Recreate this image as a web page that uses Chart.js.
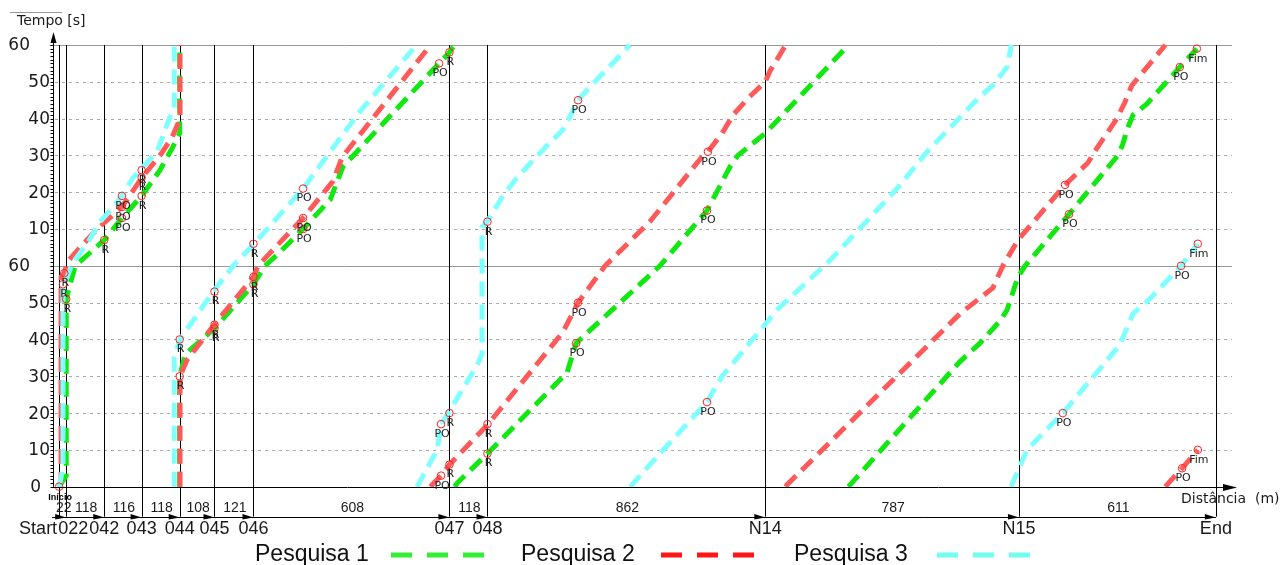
<!DOCTYPE html>
<html>
<head>
<meta charset="utf-8">
<script src="https://cdn.jsdelivr.net/npm/chart.js@4.4.1/dist/chart.umd.min.js"></script>
<style>
  html, body { margin: 0; padding: 0; background: #fff; }
  canvas { display: block; }
</style>
</head>
<body>
<canvas id="canvas" width="1282" height="565"></canvas>
<script>
// time axis wraps every 120 s (two bands of 60 s)
const PERIOD = 120;

const stationNames = ['Start', '022', '042', '043', '044', '045', '046', '047', '048', 'N14', 'N15', 'End'];
const segmentLengths = [22, 118, 116, 118, 108, 121, 608, 118, 862, 787, 611];

const yTickValues = [0, 10, 20, 30, 40, 50, 60, 70, 80, 90, 100, 110, 120];
const yTickLabels = ['0', '10', '20', '30', '40', '50', '60', '10', '20', '30', '40', '50', '60'];

// Pesquisa 1 : distance (m) / elapsed time (s)
const dist1 = [0, 22, 22, 28, 50, 140, 195, 256, 313, 351, 374, 374, 391, 482, 603, 639, 676, 757, 841, 881,
  1179, 1211, 1235, 1329, 1576, 1604, 1864, 2010, 2082, 2106, 2191, 2454, 2795, 2857, 2919, 2941, 2975, 2997,
  3133, 3285, 3300, 3313, 3332, 3375, 3477, 3530];
const time1 = [0, 3, 51, 53, 60, 67, 73, 79, 86, 92, 96, 150, 156, 163, 175, 180, 183, 190, 198, 207,
  235, 238, 241, 249, 271, 279, 300, 315, 327, 330, 336, 360.5, 394, 399, 405, 408, 417, 420,
  434, 450, 453, 457, 461, 464, 474, 479];

// Pesquisa 2
const dist2 = [0, 6, 6, 16, 25, 65, 118, 195, 257, 313, 351, 375, 375, 397, 437, 481, 603, 617, 757, 850, 878,
  1157, 1185, 1211, 1331, 1563, 1610, 1694, 1833, 1998, 2013, 2057, 2091, 2143, 2191, 2206, 2258, 2795, 2897,
  2928, 2975, 3121, 3192, 3220, 3282, 3307, 3328, 3437, 3484, 3533];
const time2 = [0, 2, 57, 58, 61, 65, 70, 76, 84, 90, 95, 100, 150, 154.5, 159, 164, 177, 180, 193, 203, 209.5,
  240.5, 243, 246, 257, 282, 290, 300, 312, 330, 331, 336, 341, 346, 350, 353, 360.5, 407, 414,
  420, 427, 442, 448, 452, 460, 464.5, 469, 480.5, 485, 490];

// Pesquisa 3
const dist3 = [0, 12, 12, 25, 43, 87, 127, 168, 195, 230, 251, 304, 344, 357, 357, 375, 478, 540, 605, 757, 841,
  934, 1114, 1173, 1185, 1207, 1297, 1312, 1312, 1328, 1377, 1421, 1501, 1563, 1585, 1610, 1647, 1777, 1833,
  2010, 2057, 2190, 2227, 2392, 2600, 2693, 2857, 2897, 2941, 2956, 3003, 3114, 3291, 3332, 3384, 3481, 3533];
const time3 = [0, 5, 55, 57, 61, 66, 72, 76, 79, 84, 86, 91, 100.5, 103, 155, 160, 173, 180, 186, 201, 211,
  222, 240.5, 250, 257, 260, 273, 276, 310.5, 312, 319, 324, 331.5, 337, 340.5, 345, 348.6, 360.5, 366,
  383, 390, 404, 408, 421.5, 441, 451, 466, 469, 474, 480.5, 490, 500, 518.5, 527, 531, 540, 546];

// event markers (R / PO / start and end of each run)
const markerDist = [0, 16, 12, 22, 140, 195, 195, 195, 256, 256, 256, 374, 374, 482, 482, 482, 603, 603, 603,
  757, 757, 757, 1179, 1211, 1185, 1211, 1185, 1211, 1329, 1329, 1329, 1610, 1604, 1610, 2013, 2010, 2010,
  3121, 3133, 3477, 3530, 3114, 3481, 3533, 3484, 3533];
const markerTime = [0, 58, 55, 51, 67, 79, 76, 73, 86, 84, 79, 160, 150, 173, 164, 163, 177, 175, 186,
  201, 193, 190, 235, 238, 257, 260, 243, 246, 257, 249, 312, 290, 279, 345, 331, 315, 383,
  442, 434, 474, 479, 500, 540, 546, 485, 490];
const markerLabels = ['Início', 'R', 'R', 'R', 'R', 'PO', 'PO', 'PO', 'R', 'R', 'R', 'R', 'R', 'R', 'R', 'R', 'R', 'R', 'R',
  'PO', 'PO', 'PO', 'PO', 'R', 'PO', 'R', 'PO', 'R', 'R', 'R', 'R', 'PO', 'PO', 'PO', 'PO', 'PO', 'PO',
  'PO', 'PO', 'PO', 'Fim', 'PO', 'PO', 'Fim', 'PO', 'Fim'];

const seriesNames = ['Pesquisa 1', 'Pesquisa 2', 'Pesquisa 3'];
const seriesDist = [dist1, dist2, dist3];
const seriesTime = [time1, time2, time3];
const lineColors = ['#10e810', '#ff5a5a', '#80ffff'];
const legendColors = ['#33ee33', '#ff1515', '#70ffee'];

const stationDist = [0];
segmentLengths.forEach(l => stationDist.push(stationDist[stationDist.length - 1] + l));

// split a trajectory where the time wraps around the 120 s window
function wrapTrack(dist, time) {
  const segs = [];
  let cur = [];
  for (let i = 0; i < dist.length; i++) {
    if (i > 0) {
      const a = time[i - 1], b = time[i];
      let m = Math.floor(a / PERIOD) + 1;
      while (m * PERIOD < b) {
        const f = (m * PERIOD - a) / (b - a);
        const x = dist[i - 1] + f * (dist[i] - dist[i - 1]);
        cur.push({x: x, y: PERIOD});
        segs.push(cur);
        cur = [{x: x, y: 0}];
        m++;
      }
    }
    const t = time[i];
    const v = t - Math.floor(t / PERIOD) * PERIOD;
    if (v === 0 && t > 0) {
      cur.push({x: dist[i], y: PERIOD});
      segs.push(cur);
      cur = [{x: dist[i], y: 0}];
    } else {
      cur.push({x: dist[i], y: v});
    }
  }
  if (cur.length > 1) segs.push(cur);
  return segs;
}

const datasets = [];
seriesNames.forEach((name, s) => {
  wrapTrack(seriesDist[s], seriesTime[s]).forEach(pts => {
    datasets.push({
      label: name,
      data: pts,
      showLine: true,
      borderColor: lineColors[s],
      borderWidth: 5,
      borderDash: [15, 8],
      borderCapStyle: 'butt',
      pointRadius: 0,
      tension: 0,
      fill: false,
      clip: false,
      order: 3 - s
    });
  });
});

datasets.push({
  label: 'markers',
  data: markerDist.map((d, i) => ({x: d, y: markerTime[i] % PERIOD})),
  showLine: false,
  pointStyle: 'circle',
  pointRadius: 3.8,
  pointBorderWidth: 1,
  pointBorderColor: '#ff2020',
  pointBackgroundColor: 'rgba(0,0,0,0)',
  clip: false,
  order: 0
});

function line(ctx, x1, y1, x2, y2) {
  ctx.beginPath();
  ctx.moveTo(x1, y1);
  ctx.lineTo(x2, y2);
  ctx.stroke();
}

const diagram = {
  id: 'diagram',
  beforeDatasetsDraw(chart) {
    const ctx = chart.ctx;
    const {left, right, top, bottom} = chart.chartArea;
    const X = v => chart.scales.x.getPixelForValue(v);
    const Y = v => chart.scales.y.getPixelForValue(v);
    ctx.save();
    ctx.lineWidth = 1;
    yTickValues.forEach(v => {
      if (v === 0) return;
      const y = Math.round(Y(v)) + 0.5;
      if (v % 60 === 0) {
        ctx.setLineDash([]);
        ctx.strokeStyle = '#999';
        line(ctx, left - 3, y, right, y);
      } else {
        ctx.setLineDash([3, 4]);
        ctx.strokeStyle = '#aaa';
        line(ctx, left + 2, y, right, y);
      }
    });
    ctx.setLineDash([]);
    ctx.strokeStyle = '#000';
    stationDist.forEach(d => {
      const x = Math.round(X(d)) + 0.5;
      line(ctx, x, top, x, bottom + 30);
    });
    ctx.restore();
  },
  afterDatasetsDraw(chart) {
    const ctx = chart.ctx;
    const {left, right, top, bottom} = chart.chartArea;
    const X = v => chart.scales.x.getPixelForValue(v);
    const Y = v => chart.scales.y.getPixelForValue(v);
    ctx.save();
    ctx.strokeStyle = '#000';
    ctx.fillStyle = '#000';
    ctx.lineWidth = 1;

    // x axis with arrow
    const yb = Math.round(bottom) + 0.5;
    line(ctx, left - 1, yb, right + 2, yb);
    ctx.beginPath();
    ctx.moveTo(right + 5, yb);
    ctx.lineTo(right - 9, yb - 3.5);
    ctx.lineTo(right - 9, yb + 3.5);
    ctx.closePath();
    ctx.fill();

    // y axis with arrow and 1 s ticks
    const xl = Math.round(left) + 0.5;
    line(ctx, xl, bottom, xl, top - 10);
    ctx.beginPath();
    ctx.moveTo(xl, top - 13);
    ctx.lineTo(xl - 3, top - 2);
    ctx.lineTo(xl + 3, top - 2);
    ctx.closePath();
    ctx.fill();
    for (let v = 0; v <= PERIOD; v++) {
      const y = Math.round(Y(v)) + 0.5;
      line(ctx, xl - 3, y, xl, y);
    }

    // y tick labels
    ctx.font = '17px "DejaVu Sans"';
    ctx.fillStyle = '#1a1a1a';
    ctx.textBaseline = 'middle';
    ctx.textAlign = 'right';
    yTickValues.forEach((v, i) => {
      let xr = left - 3;
      if (v === 0) xr = left - 12;
      if (v % 60 === 0 && v > 0) xr = left - 23;
      ctx.fillText(yTickLabels[i], xr, Y(v) + 1);
    });

    // axis titles
    ctx.font = '14px "DejaVu Sans"';
    ctx.textAlign = 'left';
    ctx.fillText('Tempo [s]', 17, 21);
    ctx.strokeStyle = '#999';
    line(ctx, 10, 12.5, 62, 12.5);
    ctx.strokeStyle = '#000';
    ctx.fillText('Distância  (m)', 1181, bottom + 13);

    // distance band under the axis
    const ys = Math.round(bottom + 30) + 0.5;
    const xEnd = X(stationDist[stationDist.length - 1]);
    line(ctx, left - 1, ys, xEnd, ys);
    ctx.fillStyle = '#000';
    stationDist.forEach((d, i) => {
      if (i === 0) return;
      const x = X(d);
      ctx.beginPath();
      ctx.moveTo(x, ys);
      ctx.lineTo(x - 11, ys - 3.5);
      ctx.lineTo(x - 11, ys + 2);
      ctx.closePath();
      ctx.fill();
    });
    ctx.fillStyle = '#1a1a1a';
    ctx.font = '14px "Liberation Sans"';
    ctx.textAlign = 'center';
    segmentLengths.forEach((l, i) => {
      const xm = (X(stationDist[i]) + X(stationDist[i + 1])) / 2;
      ctx.fillText(String(l), xm + 1, bottom + 21);
    });
    ctx.font = '18px "Liberation Sans"';
    stationNames.forEach((n, i) => {
      const x = X(stationDist[i]);
      if (i === 0) {
        ctx.textAlign = 'right';
        ctx.fillText(n, x - 2, bottom + 42);
      } else if (i === 1) {
        ctx.textAlign = 'left';
        ctx.fillText(n, x - 8, bottom + 42);
      } else {
        ctx.textAlign = 'center';
        ctx.fillText(n, x, bottom + 42);
      }
    });

    // marker labels
    ctx.textAlign = 'center';
    markerDist.forEach((d, i) => {
      const x = X(d);
      const y = Y(markerTime[i] % PERIOD);
      if (markerLabels[i] === 'Início') {
        ctx.font = 'bold 9px "Liberation Sans"';
        ctx.fillStyle = '#000';
        ctx.fillText(markerLabels[i], x + 1, y + 11);
      } else {
        ctx.font = '11px "DejaVu Sans"';
        ctx.fillStyle = '#222';
        ctx.fillText(markerLabels[i], x + 1, y + 10);
      }
    });

    // legend
    const legendText = [255, 521, 794];
    const legendLine = [391, 661, 937];
    const ly = 555;
    ctx.font = '23px "Liberation Sans"';
    ctx.textAlign = 'left';
    seriesNames.forEach((n, s) => {
      ctx.fillStyle = '#111';
      ctx.fillText(n, legendText[s], ly);
      ctx.strokeStyle = legendColors[s];
      ctx.lineWidth = 5;
      ctx.setLineDash([21, 15]);
      line(ctx, legendLine[s], ly, legendLine[s] + 93, ly);
      ctx.setLineDash([]);
    });
    ctx.restore();
  }
};

const ctx = document.getElementById('canvas').getContext('2d');
const myChart = new Chart(ctx, {
  type: 'scatter',
  data: { datasets: datasets },
  options: {
    responsive: false,
    animation: false,
    devicePixelRatio: 1,
    layout: { padding: { left: 53, right: 50, top: 45, bottom: 78.3 } },
    scales: {
      x: { type: 'linear', min: -19, max: 3639, display: false },
      y: { type: 'linear', min: 0, max: PERIOD, display: false }
    },
    plugins: {
      legend: { display: false },
      tooltip: { enabled: false }
    }
  },
  plugins: [diagram]
});
</script>
</body>
</html>
